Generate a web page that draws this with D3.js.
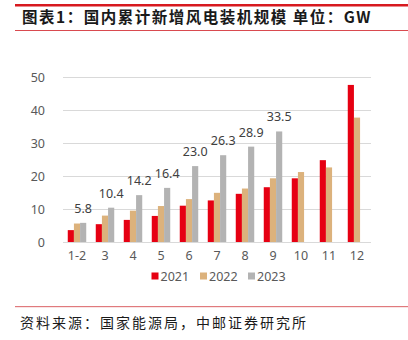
<!DOCTYPE html>
<html>
<head>
<meta charset="utf-8">
<script src="https://cdn.jsdelivr.net/npm/d3@7"></script>
<style>
  html, body { margin: 0; padding: 0; background: #fff; }
  svg { display: block; }
</style>
</head>
<body>
<svg id="chart" width="408" height="340"></svg>
<script>
// Cumulative newly installed wind capacity by month, GW
const months = ["1-2", "3", "4", "5", "6", "7", "8", "9", "10", "11", "12"];
const seriesNames = ["2021", "2022", "2023"];
const values2021 = [3.6, 5.4, 6.7, 7.9, 11.0, 12.6, 14.6, 16.6, 19.3, 24.8, 47.6];
const values2022 = [5.6, 8.0, 9.5, 10.9, 13.0, 14.9, 16.2, 19.3, 21.2, 22.6, 37.7];
const values2023 = [5.8, 10.4, 14.2, 16.4, 23.0, 26.3, 28.9, 33.5, null, null, null];
const yTicks = [0, 10, 20, 30, 40, 50];
const colors = ["#e60012", "#dcb27c", "#b3b3b3"];

const titleText = "图表1：国内累计新增风电装机规模 单位：GW";
const sourceText = "资料来源：国家能源局，中邮证券研究所";

const svg = d3.select("#chart");
const seriesValues = [values2021, values2022, values2023];

const x0 = d3.scaleBand().domain(months).range([63, 371])
  .paddingInner(0.34).paddingOuter(0.17);
const x1 = d3.scaleBand().domain(seriesNames).range([0, x0.bandwidth()]);
const y = d3.scaleLinear().domain([0, 50]).range([242, 77]);
const color = d3.scaleOrdinal().domain(seriesNames).range(colors);

// Header rules and title
svg.append("rect").attr("x", 15).attr("y", 4).attr("width", 393).attr("height", 2.5)
  .attr("fill", "#d7191f");
svg.append("rect").attr("x", 15).attr("y", 30).attr("width", 393).attr("height", 1)
  .attr("fill", "#d94a4f");
svg.append("text").attr("x", 22).attr("y", 23)
  .attr("font-family", "Noto Sans CJK SC").attr("font-weight", "bold")
  .attr("font-size", 15.5).attr("letter-spacing", 1.5).attr("fill", "#1a1a1a")
  .text(titleText);

// Gridlines
svg.append("g").selectAll("line").data(yTicks).join("line")
  .attr("x1", 63).attr("x2", 371)
  .attr("y1", d => y(d) + 0.5).attr("y2", d => y(d) + 0.5)
  .attr("stroke", "#d9d9d9").attr("stroke-width", 1);

// Y axis labels
const yAxis = d3.axisLeft(y).tickValues(yTicks).tickSize(0).tickPadding(0);
const yg = svg.append("g").attr("transform", "translate(45,0)").call(yAxis);
yg.select(".domain").remove();
yg.selectAll("text").attr("font-family", "Noto Sans").attr("font-size", 12.5)
  .attr("fill", "#595959");

// X axis labels
const xAxis = d3.axisBottom(x0).tickSize(0).tickPadding(0);
const xg = svg.append("g").attr("transform", "translate(0,251)").call(xAxis);
xg.select(".domain").remove();
xg.selectAll("text").attr("font-family", "Noto Sans").attr("font-size", 12.5)
  .attr("fill", "#595959");

// Bars
const groups = svg.append("g").selectAll("g").data(months).join("g")
  .attr("transform", d => `translate(${x0(d)},0)`);
groups.selectAll("rect")
  .data((m, i) => seriesNames.map((s, k) => ({ s, v: seriesValues[k][i] })).filter(d => d.v != null))
  .join("rect")
  .attr("x", d => x1(d.s))
  .attr("width", x1.bandwidth())
  .attr("y", d => y(d.v))
  .attr("height", d => y(0) - y(d.v))
  .attr("fill", d => color(d.s));

// Value labels on 2023 bars
svg.append("g").selectAll("text")
  .data(months.map((m, i) => ({ m, v: values2023[i] })).filter(d => d.v != null))
  .join("text")
  .attr("x", d => x0(d.m) + x1("2023") + x1.bandwidth() / 2)
  .attr("y", d => y(d.v) - 10)
  .attr("text-anchor", "middle")
  .attr("font-family", "Noto Sans").attr("font-size", 12.5).attr("fill", "#404040")
  .text(d => d.v.toFixed(1));

// Legend
const legendX = [151.5, 200, 248];
const legend = svg.append("g").selectAll("g").data(seriesNames).join("g")
  .attr("transform", (d, i) => `translate(${legendX[i]},276)`);
legend.append("rect").attr("x", 0).attr("y", -3.5).attr("width", 7).attr("height", 7)
  .attr("fill", d => color(d));
legend.append("text").attr("x", 9).attr("y", 0).attr("dy", "0.36em")
  .attr("font-family", "Noto Sans").attr("font-size", 12.5).attr("fill", "#595959")
  .text(d => d);

// Footer rule and source
svg.append("rect").attr("x", 15).attr("y", 306).attr("width", 393).attr("height", 1.2)
  .attr("fill", "#e07a7d");
svg.append("text").attr("x", 20).attr("y", 328)
  .attr("font-family", "Noto Sans CJK SC").attr("font-size", 14)
  .attr("letter-spacing", 2).attr("fill", "#1a1a1a")
  .text(sourceText);
</script>
</body>
</html>
